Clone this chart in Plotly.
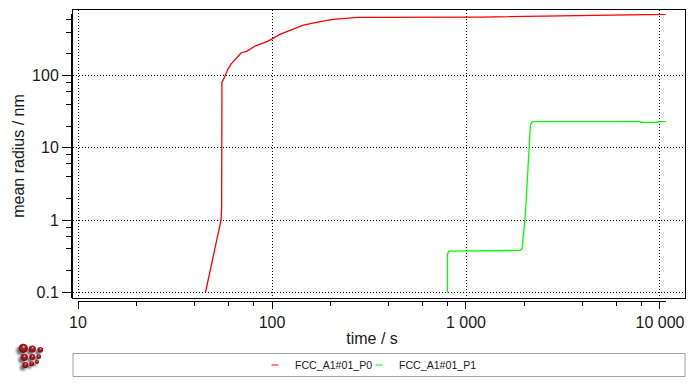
import base64
import plotly.graph_objects as go

# ---- data ----
time_p0 = [45.4, 54.6, 55.0, 55.2, 55.2, 56.6, 59.3, 61.5, 69.2, 74.3, 81.7, 95.4, 101, 110, 114, 145, 177, 206, 238, 277, 1180, 2400, 4910, 8170, 8280, 10700]
radius_p0 = [0.1, 1.0, 1.5, 10, 81, 92, 123, 144, 205, 218, 256, 300, 330, 371, 387, 499, 555, 599, 618, 638, 644, 665, 682, 687, 702, 702]
time_p1 = [803, 803, 817, 1897, 1945, 1977, 2014, 2038, 2061, 2099, 2123, 2148, 2188, 2213, 7890, 7950, 9700, 9770, 10700]
radius_p1 = [0.1, 0.34, 0.374, 0.382, 0.405, 0.583, 1.035, 1.67, 3.06, 6.78, 12.8, 20.7, 22.7, 23.0, 23.0, 22.5, 22.5, 23.0, 23.0]
series_names = ["FCC_A1#01_P0", "FCC_A1#01_P1"]
series_colors = ["#ff0000", "#00ff00"]
x_tick_vals = [10, 100, 1000, 10000]
x_tick_text = ["10", "100", "1 000", "10 000"]
y_tick_vals = [0.1, 1, 10, 100]
y_tick_text = ["0.1", "1", "10", "100"]
x_minor = [20, 40, 60, 80, 200, 400, 600, 800, 2000, 4000, 6000, 8000]
y_minor = [0.2, 0.4, 0.6, 0.8, 2, 4, 6, 8, 20, 40, 60, 80, 200, 400, 600]

W, H = 695, 387
FONT = "Liberation Sans"
TXT = "#1a1a1a"

def fx(p): return p / W
def fy(p): return 1 - p / H

spheres = [(23.3,348.3,4.6),(32.3,349,3.6),(40.3,349.7,2.8),(24.3,357.3,3.6),(32.3,357,3.0),
           (38.7,356.7,2.4),(25.3,365,3.1),(31.7,363.7,2.5),(37,362,2.0)]
ox, oy, sz = 10, 340, 36
body = ""
for cx, cy, r in spheres:
    body += f'<circle cx="{cx-ox-2.5}" cy="{cy-oy+2.5}" r="{r}" fill="#777" filter="url(#b)"/>'
for cx, cy, r in spheres:
    body += f'<circle cx="{cx-ox}" cy="{cy-oy}" r="{r}" fill="url(#g)"/>'
svg = (f'<svg xmlns="http://www.w3.org/2000/svg" width="{sz}" height="{sz}" viewBox="0 0 {sz} {sz}">'
       '<defs><filter id="b" x="-50%" y="-50%" width="200%" height="200%"><feGaussianBlur stdDeviation="1.1"/></filter>'
       '<radialGradient id="g" cx="0.5" cy="0.5" r="0.6" fx="0.55" fy="0.3">'
       '<stop offset="0" stop-color="#f4b8b8"/><stop offset="0.3" stop-color="#b8202a"/>'
       '<stop offset="1" stop-color="#5a0a10"/></radialGradient></defs>' + body + '</svg>')
logo = "data:image/svg+xml;base64," + base64.b64encode(svg.encode()).decode()

fig = go.Figure()
# frame and grid subplot needs a trace to exist
fig.add_trace(go.Scatter(x=[None], y=[None], xaxis="x", yaxis="y", showlegend=False, hoverinfo="skip"))
fig.add_trace(go.Scatter(x=time_p0, y=radius_p0, mode="lines", name=series_names[0], xaxis="x2", yaxis="y2",
                         line=dict(color=series_colors[0], width=1.3), showlegend=False))
fig.add_trace(go.Scatter(x=time_p1, y=radius_p1, mode="lines", name=series_names[1], xaxis="x2", yaxis="y2",
                         line=dict(color=series_colors[1], width=1.3), showlegend=False))
for n, c, lg in zip(series_names, series_colors, ["legend", "legend2"]):
    fig.add_trace(go.Scatter(x=[None], y=[None], mode="markers", name=n, xaxis="x2", yaxis="y2", legend=lg,
                             marker=dict(symbol="line-ew", size=5, line=dict(color=c, width=1.2))))

grid = dict(showgrid=True, gridcolor="#000000", griddash="1px,2px", gridwidth=1, zeroline=False,
            showline=True, linecolor="#000000", linewidth=1, mirror=True, ticks="", showticklabels=False,
            type="log")
axis_font = dict(family=FONT, size=16, color=TXT)
tick_common = dict(type="log", showgrid=False, zeroline=False, showline=True, linecolor="#000000", linewidth=1,
                   ticks="outside", tickcolor="#000000", tickwidth=1, tickfont=axis_font,
                   anchor="free")
legend_common = dict(xanchor="left", yanchor="middle", y=fy(365),
                     font=dict(family=FONT, size=10.6, color=TXT), itemwidth=30,
                     bgcolor="rgba(0,0,0,0)", borderwidth=0, itemclick=False, itemdoubleclick=False)
fig.update_layout(
    width=W, height=H, autosize=False,
    margin=dict(l=0, r=0, t=0, b=0, pad=0, autoexpand=False),
    paper_bgcolor="#ffffff", plot_bgcolor="rgba(0,0,0,0)",
    font=dict(family=FONT, color=TXT),
    xaxis=dict(domain=[fx(73), fx(685)], range=[0.974, 4.129], tickmode="array", tickvals=x_tick_vals, **grid),
    yaxis=dict(domain=[fy(297.5), fy(9.5)], range=[-1.069, 2.913], tickmode="array", tickvals=y_tick_vals, **grid),
    xaxis2=dict(domain=[fx(78), fx(666)], range=[1.0, 4.031], position=fy(300.5), tickmode="array",
                tickvals=x_tick_vals, ticktext=x_tick_text, ticklen=7,
                minor=dict(tickmode="array", tickvals=x_minor, ticks="outside", ticklen=4, tickcolor="#000000", tickwidth=1),
                title=dict(text="time / s", font=axis_font, standoff=3), **tick_common),
    yaxis2=dict(domain=[fy(298), fy(14)], range=[-1.076, 2.851], position=fx(71), tickmode="array",
                tickvals=y_tick_vals, ticktext=y_tick_text, ticklen=9,
                minor=dict(tickmode="array", tickvals=y_minor, ticks="outside", ticklen=5, tickcolor="#000000", tickwidth=1),
                title=dict(text="mean radius / nm", font=axis_font, standoff=2), **tick_common),
    legend=dict(x=fx(255), **legend_common),
    legend2=dict(x=fx(359), **legend_common),
    shapes=[dict(type="rect", xref="paper", yref="paper", x0=fx(73), x1=fx(685), y0=fy(376.5), y1=fy(353.5),
                 line=dict(color="#a0a0a0", width=1), fillcolor="rgba(0,0,0,0)", layer="below")],
    images=[dict(source=logo, xref="paper", yref="paper", x=fx(ox), y=fy(oy), sizex=sz / W, sizey=sz / H,
                 xanchor="left", yanchor="top", layer="above", sizing="stretch")],
    showlegend=True,
)
fig.write_html("out.html", config={"displayModeBar": False},
               post_script="document.body.style.margin='0';document.documentElement.style.overflow='hidden';")
